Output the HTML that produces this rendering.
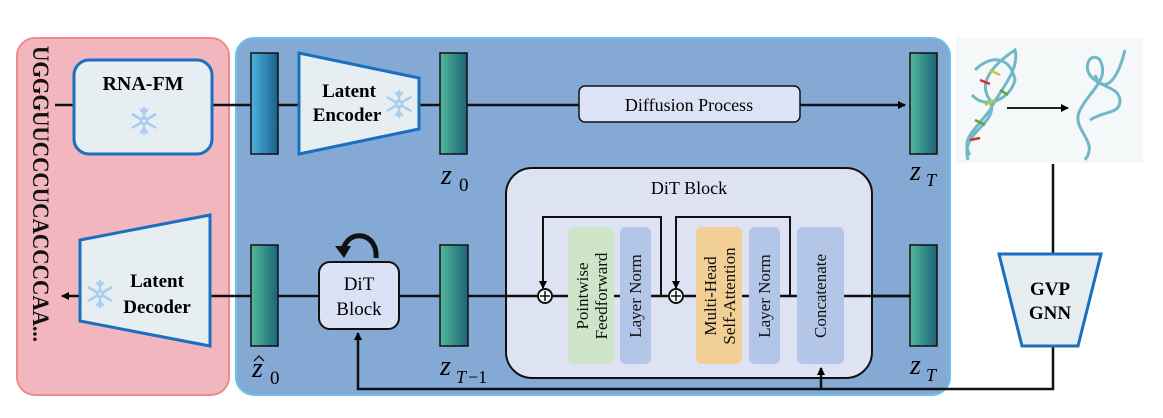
<!DOCTYPE html>
<html><head><meta charset="utf-8"><style>
html,body{margin:0;padding:0;background:#fff;width:1163px;height:418px;overflow:hidden}
text{font-family:"Liberation Serif",serif}
</style></head><body>
<svg width="1163" height="418" viewBox="0 0 1163 418" xmlns="http://www.w3.org/2000/svg">
<defs>
<linearGradient id="gb" x1="0" x2="1"><stop offset="0" stop-color="#4fb3e0"/><stop offset="1" stop-color="#1a5f8a"/></linearGradient>
<linearGradient id="gg" x1="0" x2="1"><stop offset="0" stop-color="#52b89a"/><stop offset="1" stop-color="#1b6478"/></linearGradient>
<marker id="ah" markerWidth="8" markerHeight="8" refX="7" refY="4" orient="auto" markerUnits="userSpaceOnUse"><path d="M0,0 L8,4 L0,8 Z" fill="#000"/></marker>
<g id="flake" stroke="#a9cdf0" stroke-width="2.5" fill="none" stroke-linecap="round">
<line x1="0" y1="-13" x2="0" y2="13"/><line x1="-11.3" y1="-6.5" x2="11.3" y2="6.5"/><line x1="-11.3" y1="6.5" x2="11.3" y2="-6.5"/>
<path d="M-3,-11 L0,-8 L3,-11 M-3,11 L0,8 L3,11"/>
<circle r="3" fill="#d7e8f8"/>
</g>
</defs>
<rect x="17" y="38" width="212" height="357" rx="18" fill="#f2b6bf" stroke="#f08a8a" stroke-width="2"/>
<rect x="236" y="38" width="714" height="357" rx="18" fill="#84a9d5" stroke="#6cc0ea" stroke-width="2"/>
<text transform="translate(33,46) rotate(90)" font-size="23" font-weight="bold" fill="#111" textLength="296" lengthAdjust="spacingAndGlyphs">UGGGUUCCCUCACCCCAA...</text>
<line x1="55" y1="105" x2="905" y2="105" stroke="#111" stroke-width="2.5" marker-end="url(#ah)"/>
<rect x="74" y="60" width="138" height="94" rx="15" fill="#e6eef2" stroke="#1a6fbf" stroke-width="3"/>
<text x="143" y="90" font-size="20" font-weight="bold" text-anchor="middle">RNA-FM</text>
<use href="#flake" x="144" y="121"/>
<rect x="251" y="53" width="27" height="101" fill="url(#gb)" stroke="#111" stroke-width="1.5"/>
<polygon points="299,53 419,78 419,129 299,154" fill="#e6eef2" stroke="#1a6fbf" stroke-width="3"/>
<text x="349" y="97" font-size="19" font-weight="bold" text-anchor="middle">Latent</text>
<text x="347" y="121" font-size="19" font-weight="bold" text-anchor="middle">Encoder</text>
<use href="#flake" x="399" y="104"/>
<rect x="440" y="53" width="27" height="101" fill="url(#gg)" stroke="#111" stroke-width="1.5"/>
<text x="441" y="184" font-size="28" font-style="italic">z</text><text x="459" y="191" font-size="19">0</text>
<rect x="579" y="86" width="221" height="36" rx="6" fill="#dde3f6" stroke="#111" stroke-width="1.5"/>
<text x="689" y="111" font-size="18" text-anchor="middle">Diffusion Process</text>
<rect x="910" y="53" width="27" height="101" fill="url(#gg)" stroke="#111" stroke-width="1.5"/>
<text x="910" y="180" font-size="28" font-style="italic">z</text><text x="926" y="186" font-size="18" font-style="italic">T</text>
<line x1="910" y1="296" x2="62" y2="296" stroke="#111" stroke-width="2.5" marker-end="url(#ah)"/>
<polygon points="80,240 210,215 210,346 80,321" fill="#e6eef2" stroke="#1a6fbf" stroke-width="3"/>
<text x="157" y="287" font-size="19" font-weight="bold" text-anchor="middle">Latent</text>
<text x="157" y="313" font-size="19" font-weight="bold" text-anchor="middle">Decoder</text>
<use href="#flake" x="100" y="294"/>
<rect x="251" y="245" width="27" height="101" fill="url(#gg)" stroke="#111" stroke-width="1.5"/>
<text x="252" y="377" font-size="28" font-style="italic">z</text><path d="M254,361 L259,356 L264,361" fill="none" stroke="#111" stroke-width="1.3"/><text x="270" y="384" font-size="19">0</text>
<rect x="319" y="262" width="80" height="67" rx="11" fill="#dbe2f5" stroke="#111" stroke-width="2"/>
<text x="359" y="290" font-size="19" text-anchor="middle">DiT</text>
<text x="359" y="315" font-size="19" text-anchor="middle">Block</text>
<path d="M376,258 C378,232 348,228 343,250" fill="none" stroke="#111" stroke-width="5"/>
<path d="M335,246 L344,258 L351,246 Z" fill="#111"/>
<rect x="440" y="245" width="28" height="101" fill="url(#gg)" stroke="#111" stroke-width="1.5"/>
<text x="440" y="375" font-size="28" font-style="italic">z</text><text x="456" y="383" font-size="18" font-style="italic">T</text><text x="468" y="383" font-size="18">−1</text>
<rect x="506" y="168" width="366" height="210" rx="26" fill="#dde3f3" stroke="#111" stroke-width="2"/>
<text x="689" y="194" font-size="18" text-anchor="middle">DiT Block</text>
<line x1="506" y1="296" x2="910" y2="296" stroke="#111" stroke-width="2.5"/>
<rect x="568" y="227" width="46" height="137" rx="6" fill="#cfe5c8"/>
<rect x="620" y="227" width="31" height="137" rx="6" fill="#b4c6e8"/>
<rect x="696" y="227" width="46" height="137" rx="6" fill="#f2cf95"/>
<rect x="749" y="227" width="31" height="137" rx="6" fill="#b4c6e8"/>
<rect x="797" y="227" width="47" height="137" rx="6" fill="#b4c6e8"/>
<g font-size="17" fill="#111">
<text transform="translate(588,296) rotate(-90)" text-anchor="middle">Pointwise</text>
<text transform="translate(607,296) rotate(-90)" text-anchor="middle">Feedforward</text>
<text transform="translate(641,296) rotate(-90)" text-anchor="middle">Layer Norm</text>
<text transform="translate(716,296) rotate(-90)" text-anchor="middle">Multi-Head</text>
<text transform="translate(735,296) rotate(-90)" text-anchor="middle">Self-Attention</text>
<text transform="translate(770,296) rotate(-90)" text-anchor="middle">Layer Norm</text>
<text transform="translate(826,296) rotate(-90)" text-anchor="middle">Concatenate</text>
</g>
<path d="M661,296 L661,217 L543,217 L543,288" fill="none" stroke="#111" stroke-width="2" marker-end="url(#ah)"/>
<path d="M790,296 L790,217 L676,217 L676,288" fill="none" stroke="#111" stroke-width="2" marker-end="url(#ah)"/>
<g fill="#fff" stroke="#111" stroke-width="2">
<circle cx="545" cy="296" r="7"/><circle cx="676" cy="296" r="7"/>
</g>
<path d="M545,291 V301 M540,296 H550 M676,291 V301 M671,296 H681" stroke="#111" stroke-width="1.5"/>
<rect x="910" y="245" width="27" height="101" fill="url(#gg)" stroke="#111" stroke-width="1.5"/>
<text x="910" y="374" font-size="28" font-style="italic">z</text><text x="926" y="381" font-size="18" font-style="italic">T</text>
<path d="M1053,346 L1053,389 L358,389 L358,333" fill="none" stroke="#111" stroke-width="2.5" marker-end="url(#ah)"/>
<line x1="821" y1="389" x2="821" y2="368" stroke="#111" stroke-width="2.5" marker-end="url(#ah)"/>
<line x1="1053" y1="164" x2="1053" y2="254" stroke="#111" stroke-width="2.5"/>
<polygon points="999,254 1101,254 1078,346 1022,346" fill="#e6eef2" stroke="#1a6fbf" stroke-width="3"/>
<text x="1050" y="295" font-size="19" font-weight="bold" text-anchor="middle">GVP</text>
<text x="1050" y="319" font-size="19" font-weight="bold" text-anchor="middle">GNN</text>
<rect x="956" y="38" width="187" height="125" fill="#f4f8f9"/>
<g fill="none" stroke="#6fb8c8" stroke-width="3">
<path d="M968,160 C960,130 1000,125 990,100 C975,80 1000,60 1015,50 C1020,70 1000,90 990,110 C975,130 960,140 970,155"/>
<path d="M975,70 C990,55 1010,55 1015,80 C1010,100 985,110 972,95"/>
<path d="M1085,160 C1100,140 1070,130 1080,110 C1090,90 1110,80 1100,60 C1090,50 1080,70 1095,80 C1110,95 1120,70 1125,50"/>
<path d="M1090,120 C1105,110 1120,115 1120,100 C1118,85 1100,90 1095,75"/>
</g>
<g stroke-width="2.5">
<line x1="980" y1="80" x2="990" y2="84" stroke="#cf3030"/><line x1="985" y1="105" x2="995" y2="100" stroke="#c8c830"/>
<line x1="975" y1="120" x2="985" y2="125" stroke="#60a030"/><line x1="990" y1="70" x2="1000" y2="75" stroke="#c8c830"/>
<line x1="970" y1="140" x2="980" y2="138" stroke="#cf3030"/><line x1="1000" y1="90" x2="1008" y2="95" stroke="#60a030"/>
</g>
<line x1="1007" y1="108" x2="1068" y2="108" stroke="#222" stroke-width="2" marker-end="url(#ah)"/>
</svg>
</body></html>
